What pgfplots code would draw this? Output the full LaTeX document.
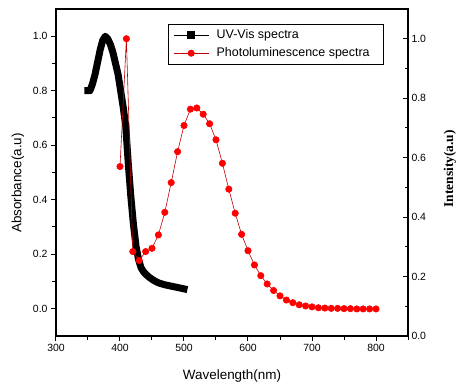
\documentclass[border=0pt]{standalone}
\usepackage{fontspec}
\setmainfont{Liberation Sans}
\newfontfamily\timesfont{Liberation Serif}
\usepackage{pgfplots}
\pgfplotsset{compat=1.18}
\pgfplotstableread{
x y
350 0.800
353 0.800
357 0.825
361 0.860
365 0.905
369 0.950
373 0.985
377 1.000
381 0.990
385 0.970
389 0.940
393 0.900
397 0.860
401 0.800
405 0.740
409 0.670
413 0.530
417 0.410
421 0.310
425 0.230
429 0.180
433 0.150
437 0.135
441 0.125
446 0.115
452 0.105
460 0.095
470 0.088
480 0.083
490 0.078
500 0.073
}\uvdata
\pgfplotstableread{
x y
400 0.570
410 1.000
420 0.284
430 0.254
440 0.284
450 0.295
460 0.340
470 0.416
480 0.516
490 0.620
500 0.708
510 0.763
520 0.767
530 0.746
540 0.714
550 0.660
560 0.581
570 0.494
580 0.413
590 0.342
600 0.287
610 0.239
620 0.203
630 0.175
640 0.153
650 0.135
660 0.121
670 0.112
680 0.105
690 0.101
700 0.098
710 0.095
720 0.094
730 0.093
740 0.093
750 0.092
760 0.092
770 0.091
780 0.091
790 0.091
800 0.091
}\pldata
\begin{document}
\begin{tikzpicture}
\pgfplotsset{
  common/.style={
    scale only axis, width=352bp, height=327bp, at={(0,0)}, anchor=south west,
    xmin=300, xmax=850,
    axis line style={line width=1.1bp},
    major tick length=5bp, minor tick length=3.5bp,
    every tick/.style={black, line width=1bp},
    tick label style={font=\fontsize{10.5}{12}\selectfont},
    /pgf/number format/assume math mode=true,
    yticklabel style={/pgf/number format/.cd, fixed, fixed zerofill, precision=1},
  }
}
\begin{axis}[common,
  ymin=-0.1, ymax=1.1,
  xtick={300,400,...,800}, minor xtick={350,450,...,850},
  ytick={0,0.2,0.4,0.6,0.8,1.0}, minor ytick={0.1,0.3,0.5,0.7,0.9},
  xtick pos=bottom, ytick pos=left, tick align=outside,
  xticklabel style={/pgf/number format/.cd, fixed, precision=0},
  xlabel={Wavelength(nm)}, ylabel={Absorbance(a.u)},
  label style={font=\fontsize{13.5}{16}\selectfont, inner sep=0pt},
  xlabel style={at={(axis description cs:0.5,-0.122)}, anchor=center},
  ylabel style={at={(axis description cs:-0.108,0.468)}, anchor=center},
  ]
\addplot[black, line width=7bp, line join=round, line cap=rect] table[x=x,y=y] {\uvdata};
\end{axis}
\begin{axis}[common,
  axis x line=none, axis y line*=right,
  ymin=0, ymax=1.1,
  ytick={0,0.2,0.4,0.6,0.8,1.0}, minor ytick={0.1,0.3,0.5,0.7,0.9},
  ytick align=inside,
  ylabel={Intensity(a.u)},
  ylabel style={font={\fontsize{13.5}{16}\selectfont\timesfont\bfseries}, inner sep=0pt,
    at={(axis description cs:1.119,0.511)}, anchor=center},
  legend style={at={(0.932,0.954)}, anchor=north east, draw=black, line width=0.8bp,
    font=\fontsize{12.5}{15}\selectfont, row sep=3.5bp,
    inner xsep=3bp, inner ysep=3.5bp},
  legend cell align=left,
  legend image code/.code={%
    \path[draw=none, fill=none] (-2bp,-4bp) rectangle (41bp,4bp);
    \draw[mark repeat=2,mark phase=2,#1] plot coordinates {(0bp,0bp) (17.5bp,0bp) (35bp,0bp)};},
  ]
\addlegendimage{black, line width=0.8bp, mark=square*, mark size=3.5bp}
\addlegendentry{UV-Vis spectra}
\addplot[red!75!black, line width=0.6bp, mark=*, mark size=3.2bp,
  mark options={fill=red, draw=red}] table[x=x,y=y] {\pldata};
\addlegendentry{Photoluminescence spectra\makebox[9bp]{}}
\end{axis}
\path (-56bp,-52bp) rectangle (400bp,336bp);
\end{tikzpicture}
\end{document}
